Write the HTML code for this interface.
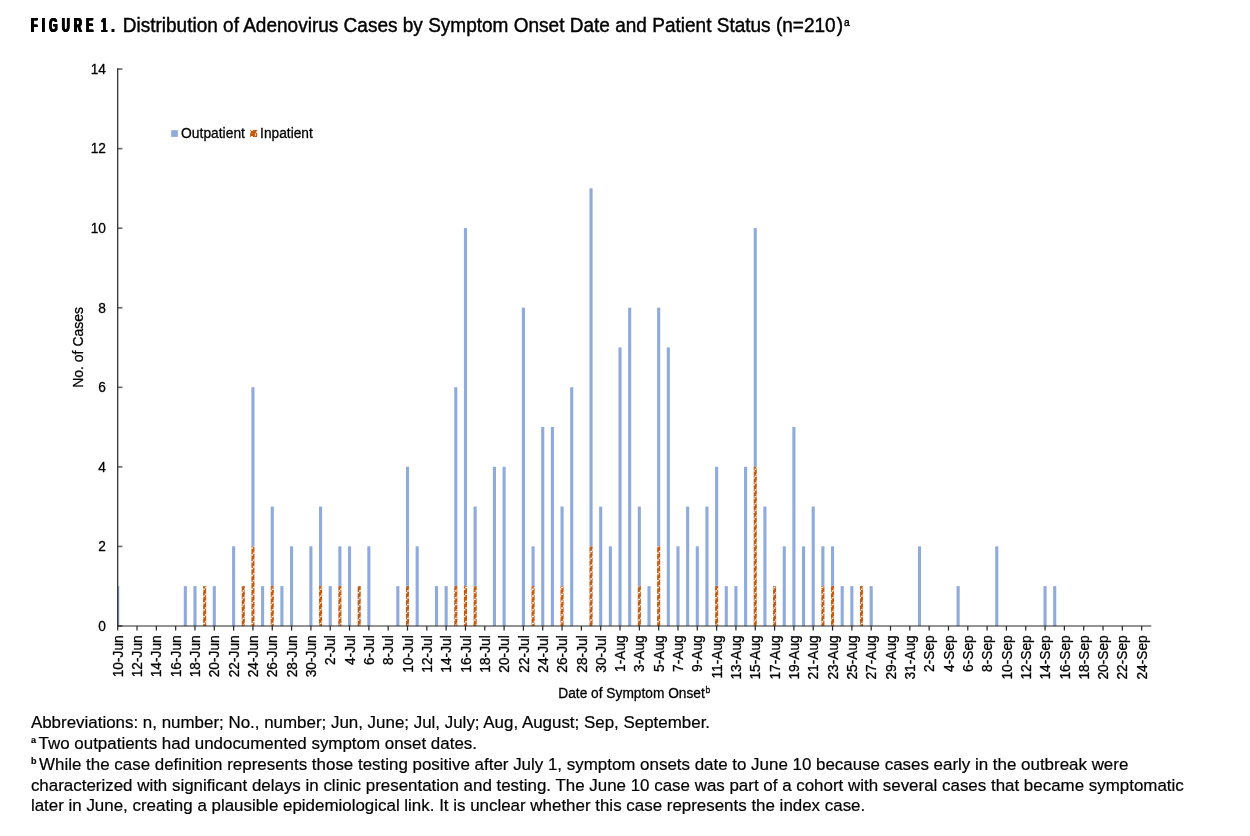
<!DOCTYPE html>
<html lang="en">
<head>
<meta charset="utf-8">
<title>Figure 1. Distribution of Adenovirus Cases by Symptom Onset Date and Patient Status</title>
<style>
html,body{margin:0;padding:0;background:#fff;}
body{width:1250px;height:836px;position:relative;overflow:hidden;font-family:"Liberation Sans",Arial,sans-serif;color:#000;}
.t{position:absolute;white-space:nowrap;line-height:1;}
#fig{left:31.3px;top:16.4px;font-size:19.4px;font-weight:bold;letter-spacing:7.6px;word-spacing:-6.5px;transform-origin:0 0;transform:scaleX(0.56);text-shadow:1.2px 0 0 #000,-1.2px 0 0 #000,0.6px 0 0 #000,-0.6px 0 0 #000;}
#title{left:122.7px;top:15.6px;font-size:19.03px;-webkit-text-stroke:0.4px #000;transform-origin:0 100%;transform:scaleY(1.03);}
#title sup, .fn sup{font-size:9px;font-weight:bold;vertical-align:baseline;position:relative;top:-5.6px;line-height:0;}
#title sup{margin-left:0.8px;font-size:10.2px;font-weight:normal;top:-6.0px;}
#title i{font-style:normal;margin-left:1.2px;}
.fn sup{margin-right:2.7px;}
.fn{left:30.9px;font-size:16.93px;-webkit-text-stroke:0.2px #000;}
</style>
</head>
<body>
<div class="t" id="fig">FIGURE 1.</div>
<div class="t" id="title">Distribution of Adenovirus Cases by Symptom Onset Date and Patient Status (n=210<i>)</i><sup>a</sup></div>
<svg width="1250" height="836" viewBox="0 0 1250 836" style="position:absolute;left:0;top:0" font-family="'Liberation Sans', Arial, sans-serif" font-size="13.5" fill="#000" stroke="#000" stroke-width="0.3" stroke-linejoin="round">
<defs><clipPath id="plot"><rect x="117.7" y="0" width="1200" height="700"/></clipPath></defs>
<g clip-path="url(#plot)" stroke="none">
<rect x="116.15" y="586.12" width="3.1" height="39.78" fill="#8faadc"/>
<rect x="183.77" y="586.12" width="3.1" height="39.78" fill="#8faadc"/>
<rect x="193.43" y="586.12" width="3.1" height="39.78" fill="#8faadc"/>
<rect x="203.09" y="586.12" width="3.1" height="39.78" fill="#c55a11"/>
<g fill="#fff" fill-opacity="0.9"><rect x="202.79" y="590.21" width="0.60" height="1.41"/><rect x="202.79" y="597.06" width="0.60" height="1.41"/><rect x="202.79" y="603.91" width="0.60" height="1.41"/><rect x="202.79" y="610.76" width="0.60" height="1.41"/><rect x="202.79" y="617.61" width="0.60" height="1.41"/><rect x="202.79" y="624.46" width="0.60" height="0.84"/><rect x="203.19" y="588.50" width="1.91" height="1.41"/><rect x="203.19" y="595.35" width="1.91" height="1.41"/><rect x="203.19" y="602.20" width="1.91" height="1.41"/><rect x="203.19" y="609.05" width="1.91" height="1.41"/><rect x="203.19" y="615.90" width="1.91" height="1.41"/><rect x="203.19" y="622.75" width="1.91" height="1.41"/><rect x="204.91" y="586.79" width="1.58" height="1.41"/><rect x="204.91" y="593.64" width="1.58" height="1.41"/><rect x="204.91" y="600.49" width="1.58" height="1.41"/><rect x="204.91" y="607.34" width="1.58" height="1.41"/><rect x="204.91" y="614.19" width="1.58" height="1.41"/><rect x="204.91" y="621.04" width="1.58" height="1.41"/></g>
<rect x="212.75" y="586.12" width="3.1" height="39.78" fill="#8faadc"/>
<rect x="232.07" y="546.34" width="3.1" height="79.56" fill="#8faadc"/>
<rect x="241.73" y="586.12" width="3.1" height="39.78" fill="#c55a11"/>
<g fill="#fff" fill-opacity="0.9"><rect x="241.43" y="586.12" width="1.35" height="0.37"/><rect x="241.43" y="591.92" width="1.35" height="1.41"/><rect x="241.43" y="598.77" width="1.35" height="1.41"/><rect x="241.43" y="605.62" width="1.35" height="1.41"/><rect x="241.43" y="612.47" width="1.35" height="1.41"/><rect x="241.43" y="619.32" width="1.35" height="1.41"/><rect x="242.58" y="590.21" width="1.91" height="1.41"/><rect x="242.58" y="597.06" width="1.91" height="1.41"/><rect x="242.58" y="603.91" width="1.91" height="1.41"/><rect x="242.58" y="610.76" width="1.91" height="1.41"/><rect x="242.58" y="617.61" width="1.91" height="1.41"/><rect x="242.58" y="624.46" width="1.91" height="0.84"/><rect x="244.29" y="588.50" width="0.84" height="1.41"/><rect x="244.29" y="595.35" width="0.84" height="1.41"/><rect x="244.29" y="602.20" width="0.84" height="1.41"/><rect x="244.29" y="609.05" width="0.84" height="1.41"/><rect x="244.29" y="615.90" width="0.84" height="1.41"/><rect x="244.29" y="622.75" width="0.84" height="1.41"/></g>
<rect x="251.39" y="387.22" width="3.1" height="159.12" fill="#8faadc"/>
<rect x="251.39" y="546.34" width="3.1" height="79.56" fill="#c55a11"/>
<g fill="#fff" fill-opacity="0.9"><rect x="251.09" y="549.11" width="0.25" height="1.41"/><rect x="251.09" y="555.96" width="0.25" height="1.41"/><rect x="251.09" y="562.81" width="0.25" height="1.41"/><rect x="251.09" y="569.66" width="0.25" height="1.41"/><rect x="251.09" y="576.51" width="0.25" height="1.41"/><rect x="251.09" y="583.36" width="0.25" height="1.41"/><rect x="251.09" y="590.21" width="0.25" height="1.41"/><rect x="251.09" y="597.06" width="0.25" height="1.41"/><rect x="251.09" y="603.91" width="0.25" height="1.41"/><rect x="251.09" y="610.76" width="0.25" height="1.41"/><rect x="251.09" y="617.61" width="0.25" height="1.41"/><rect x="251.09" y="624.46" width="0.25" height="0.84"/><rect x="251.14" y="547.40" width="1.91" height="1.41"/><rect x="251.14" y="554.25" width="1.91" height="1.41"/><rect x="251.14" y="561.10" width="1.91" height="1.41"/><rect x="251.14" y="567.95" width="1.91" height="1.41"/><rect x="251.14" y="574.80" width="1.91" height="1.41"/><rect x="251.14" y="581.65" width="1.91" height="1.41"/><rect x="251.14" y="588.50" width="1.91" height="1.41"/><rect x="251.14" y="595.35" width="1.91" height="1.41"/><rect x="251.14" y="602.20" width="1.91" height="1.41"/><rect x="251.14" y="609.05" width="1.91" height="1.41"/><rect x="251.14" y="615.90" width="1.91" height="1.41"/><rect x="251.14" y="622.75" width="1.91" height="1.41"/><rect x="252.86" y="546.34" width="1.91" height="0.76"/><rect x="252.86" y="552.54" width="1.91" height="1.41"/><rect x="252.86" y="559.39" width="1.91" height="1.41"/><rect x="252.86" y="566.24" width="1.91" height="1.41"/><rect x="252.86" y="573.09" width="1.91" height="1.41"/><rect x="252.86" y="579.94" width="1.91" height="1.41"/><rect x="252.86" y="586.79" width="1.91" height="1.41"/><rect x="252.86" y="593.64" width="1.91" height="1.41"/><rect x="252.86" y="600.49" width="1.91" height="1.41"/><rect x="252.86" y="607.34" width="1.91" height="1.41"/><rect x="252.86" y="614.19" width="1.91" height="1.41"/><rect x="252.86" y="621.04" width="1.91" height="1.41"/><rect x="254.57" y="550.82" width="0.22" height="1.41"/><rect x="254.57" y="557.67" width="0.22" height="1.41"/><rect x="254.57" y="564.52" width="0.22" height="1.41"/><rect x="254.57" y="571.38" width="0.22" height="1.41"/><rect x="254.57" y="578.22" width="0.22" height="1.41"/><rect x="254.57" y="585.07" width="0.22" height="1.41"/><rect x="254.57" y="591.92" width="0.22" height="1.41"/><rect x="254.57" y="598.77" width="0.22" height="1.41"/><rect x="254.57" y="605.62" width="0.22" height="1.41"/><rect x="254.57" y="612.47" width="0.22" height="1.41"/><rect x="254.57" y="619.32" width="0.22" height="1.41"/></g>
<rect x="261.05" y="586.12" width="3.1" height="39.78" fill="#8faadc"/>
<rect x="270.71" y="506.56" width="3.1" height="79.56" fill="#8faadc"/>
<rect x="270.71" y="586.12" width="3.1" height="39.78" fill="#c55a11"/>
<g fill="#fff" fill-opacity="0.9"><rect x="270.41" y="590.21" width="1.48" height="1.41"/><rect x="270.41" y="597.06" width="1.48" height="1.41"/><rect x="270.41" y="603.91" width="1.48" height="1.41"/><rect x="270.41" y="610.76" width="1.48" height="1.41"/><rect x="270.41" y="617.61" width="1.48" height="1.41"/><rect x="270.41" y="624.46" width="1.48" height="0.84"/><rect x="271.69" y="588.50" width="1.91" height="1.41"/><rect x="271.69" y="595.35" width="1.91" height="1.41"/><rect x="271.69" y="602.20" width="1.91" height="1.41"/><rect x="271.69" y="609.05" width="1.91" height="1.41"/><rect x="271.69" y="615.90" width="1.91" height="1.41"/><rect x="271.69" y="622.75" width="1.91" height="1.41"/><rect x="273.40" y="586.79" width="0.71" height="1.41"/><rect x="273.40" y="593.64" width="0.71" height="1.41"/><rect x="273.40" y="600.49" width="0.71" height="1.41"/><rect x="273.40" y="607.34" width="0.71" height="1.41"/><rect x="273.40" y="614.19" width="0.71" height="1.41"/><rect x="273.40" y="621.04" width="0.71" height="1.41"/></g>
<rect x="280.37" y="586.12" width="3.1" height="39.78" fill="#8faadc"/>
<rect x="290.03" y="546.34" width="3.1" height="79.56" fill="#8faadc"/>
<rect x="309.35" y="546.34" width="3.1" height="79.56" fill="#8faadc"/>
<rect x="319.01" y="506.56" width="3.1" height="79.56" fill="#8faadc"/>
<rect x="319.01" y="586.12" width="3.1" height="39.78" fill="#c55a11"/>
<g fill="#fff" fill-opacity="0.9"><rect x="318.71" y="590.21" width="1.13" height="1.41"/><rect x="318.71" y="597.06" width="1.13" height="1.41"/><rect x="318.71" y="603.91" width="1.13" height="1.41"/><rect x="318.71" y="610.76" width="1.13" height="1.41"/><rect x="318.71" y="617.61" width="1.13" height="1.41"/><rect x="318.71" y="624.46" width="1.13" height="0.84"/><rect x="319.64" y="588.50" width="1.91" height="1.41"/><rect x="319.64" y="595.35" width="1.91" height="1.41"/><rect x="319.64" y="602.20" width="1.91" height="1.41"/><rect x="319.64" y="609.05" width="1.91" height="1.41"/><rect x="319.64" y="615.90" width="1.91" height="1.41"/><rect x="319.64" y="622.75" width="1.91" height="1.41"/><rect x="321.35" y="586.79" width="1.06" height="1.41"/><rect x="321.35" y="593.64" width="1.06" height="1.41"/><rect x="321.35" y="600.49" width="1.06" height="1.41"/><rect x="321.35" y="607.34" width="1.06" height="1.41"/><rect x="321.35" y="614.19" width="1.06" height="1.41"/><rect x="321.35" y="621.04" width="1.06" height="1.41"/></g>
<rect x="328.67" y="586.12" width="3.1" height="39.78" fill="#8faadc"/>
<rect x="338.33" y="546.34" width="3.1" height="39.78" fill="#8faadc"/>
<rect x="338.33" y="586.12" width="3.1" height="39.78" fill="#c55a11"/>
<g fill="#fff" fill-opacity="0.9"><rect x="338.03" y="586.12" width="0.65" height="0.37"/><rect x="338.03" y="591.92" width="0.65" height="1.41"/><rect x="338.03" y="598.77" width="0.65" height="1.41"/><rect x="338.03" y="605.62" width="0.65" height="1.41"/><rect x="338.03" y="612.47" width="0.65" height="1.41"/><rect x="338.03" y="619.32" width="0.65" height="1.41"/><rect x="338.48" y="590.21" width="1.91" height="1.41"/><rect x="338.48" y="597.06" width="1.91" height="1.41"/><rect x="338.48" y="603.91" width="1.91" height="1.41"/><rect x="338.48" y="610.76" width="1.91" height="1.41"/><rect x="338.48" y="617.61" width="1.91" height="1.41"/><rect x="338.48" y="624.46" width="1.91" height="0.84"/><rect x="340.19" y="588.50" width="1.54" height="1.41"/><rect x="340.19" y="595.35" width="1.54" height="1.41"/><rect x="340.19" y="602.20" width="1.54" height="1.41"/><rect x="340.19" y="609.05" width="1.54" height="1.41"/><rect x="340.19" y="615.90" width="1.54" height="1.41"/><rect x="340.19" y="622.75" width="1.54" height="1.41"/></g>
<rect x="347.99" y="546.34" width="3.1" height="79.56" fill="#8faadc"/>
<rect x="357.65" y="586.12" width="3.1" height="39.78" fill="#c55a11"/>
<g fill="#fff" fill-opacity="0.9"><rect x="357.35" y="586.79" width="0.17" height="1.41"/><rect x="357.35" y="593.64" width="0.17" height="1.41"/><rect x="357.35" y="600.49" width="0.17" height="1.41"/><rect x="357.35" y="607.34" width="0.17" height="1.41"/><rect x="357.35" y="614.19" width="0.17" height="1.41"/><rect x="357.35" y="621.04" width="0.17" height="1.41"/><rect x="357.35" y="586.12" width="1.88" height="0.37"/><rect x="357.35" y="591.92" width="1.88" height="1.41"/><rect x="357.35" y="598.77" width="1.88" height="1.41"/><rect x="357.35" y="605.62" width="1.88" height="1.41"/><rect x="357.35" y="612.47" width="1.88" height="1.41"/><rect x="357.35" y="619.32" width="1.88" height="1.41"/><rect x="359.03" y="590.21" width="1.91" height="1.41"/><rect x="359.03" y="597.06" width="1.91" height="1.41"/><rect x="359.03" y="603.91" width="1.91" height="1.41"/><rect x="359.03" y="610.76" width="1.91" height="1.41"/><rect x="359.03" y="617.61" width="1.91" height="1.41"/><rect x="359.03" y="624.46" width="1.91" height="0.84"/><rect x="360.74" y="588.50" width="0.31" height="1.41"/><rect x="360.74" y="595.35" width="0.31" height="1.41"/><rect x="360.74" y="602.20" width="0.31" height="1.41"/><rect x="360.74" y="609.05" width="0.31" height="1.41"/><rect x="360.74" y="615.90" width="0.31" height="1.41"/><rect x="360.74" y="622.75" width="0.31" height="1.41"/></g>
<rect x="367.31" y="546.34" width="3.1" height="79.56" fill="#8faadc"/>
<rect x="396.29" y="586.12" width="3.1" height="39.78" fill="#8faadc"/>
<rect x="405.95" y="466.78" width="3.1" height="119.34" fill="#8faadc"/>
<rect x="405.95" y="586.12" width="3.1" height="39.78" fill="#c55a11"/>
<g fill="#fff" fill-opacity="0.9"><rect x="405.65" y="586.12" width="1.53" height="0.37"/><rect x="405.65" y="591.92" width="1.53" height="1.41"/><rect x="405.65" y="598.77" width="1.53" height="1.41"/><rect x="405.65" y="605.62" width="1.53" height="1.41"/><rect x="405.65" y="612.47" width="1.53" height="1.41"/><rect x="405.65" y="619.32" width="1.53" height="1.41"/><rect x="406.98" y="590.21" width="1.91" height="1.41"/><rect x="406.98" y="597.06" width="1.91" height="1.41"/><rect x="406.98" y="603.91" width="1.91" height="1.41"/><rect x="406.98" y="610.76" width="1.91" height="1.41"/><rect x="406.98" y="617.61" width="1.91" height="1.41"/><rect x="406.98" y="624.46" width="1.91" height="0.84"/><rect x="408.69" y="588.50" width="0.66" height="1.41"/><rect x="408.69" y="595.35" width="0.66" height="1.41"/><rect x="408.69" y="602.20" width="0.66" height="1.41"/><rect x="408.69" y="609.05" width="0.66" height="1.41"/><rect x="408.69" y="615.90" width="0.66" height="1.41"/><rect x="408.69" y="622.75" width="0.66" height="1.41"/></g>
<rect x="415.61" y="546.34" width="3.1" height="79.56" fill="#8faadc"/>
<rect x="434.93" y="586.12" width="3.1" height="39.78" fill="#8faadc"/>
<rect x="444.59" y="586.12" width="3.1" height="39.78" fill="#8faadc"/>
<rect x="454.25" y="387.22" width="3.1" height="198.90" fill="#8faadc"/>
<rect x="454.25" y="586.12" width="3.1" height="39.78" fill="#c55a11"/>
<g fill="#fff" fill-opacity="0.9"><rect x="453.95" y="586.12" width="1.18" height="0.37"/><rect x="453.95" y="591.92" width="1.18" height="1.41"/><rect x="453.95" y="598.77" width="1.18" height="1.41"/><rect x="453.95" y="605.62" width="1.18" height="1.41"/><rect x="453.95" y="612.47" width="1.18" height="1.41"/><rect x="453.95" y="619.32" width="1.18" height="1.41"/><rect x="454.93" y="590.21" width="1.91" height="1.41"/><rect x="454.93" y="597.06" width="1.91" height="1.41"/><rect x="454.93" y="603.91" width="1.91" height="1.41"/><rect x="454.93" y="610.76" width="1.91" height="1.41"/><rect x="454.93" y="617.61" width="1.91" height="1.41"/><rect x="454.93" y="624.46" width="1.91" height="0.84"/><rect x="456.64" y="588.50" width="1.01" height="1.41"/><rect x="456.64" y="595.35" width="1.01" height="1.41"/><rect x="456.64" y="602.20" width="1.01" height="1.41"/><rect x="456.64" y="609.05" width="1.01" height="1.41"/><rect x="456.64" y="615.90" width="1.01" height="1.41"/><rect x="456.64" y="622.75" width="1.01" height="1.41"/></g>
<rect x="463.91" y="228.10" width="3.1" height="358.02" fill="#8faadc"/>
<rect x="463.91" y="586.12" width="3.1" height="39.78" fill="#c55a11"/>
<g fill="#fff" fill-opacity="0.9"><rect x="463.61" y="588.50" width="1.80" height="1.41"/><rect x="463.61" y="595.35" width="1.80" height="1.41"/><rect x="463.61" y="602.20" width="1.80" height="1.41"/><rect x="463.61" y="609.05" width="1.80" height="1.41"/><rect x="463.61" y="615.90" width="1.80" height="1.41"/><rect x="463.61" y="622.75" width="1.80" height="1.41"/><rect x="465.20" y="586.79" width="1.91" height="1.41"/><rect x="465.20" y="593.64" width="1.91" height="1.41"/><rect x="465.20" y="600.49" width="1.91" height="1.41"/><rect x="465.20" y="607.34" width="1.91" height="1.41"/><rect x="465.20" y="614.19" width="1.91" height="1.41"/><rect x="465.20" y="621.04" width="1.91" height="1.41"/><rect x="466.92" y="586.12" width="0.39" height="0.37"/><rect x="466.92" y="591.92" width="0.39" height="1.41"/><rect x="466.92" y="598.77" width="0.39" height="1.41"/><rect x="466.92" y="605.62" width="0.39" height="1.41"/><rect x="466.92" y="612.47" width="0.39" height="1.41"/><rect x="466.92" y="619.32" width="0.39" height="1.41"/></g>
<rect x="473.57" y="506.56" width="3.1" height="79.56" fill="#8faadc"/>
<rect x="473.57" y="586.12" width="3.1" height="39.78" fill="#c55a11"/>
<g fill="#fff" fill-opacity="0.9"><rect x="473.27" y="586.79" width="0.70" height="1.41"/><rect x="473.27" y="593.64" width="0.70" height="1.41"/><rect x="473.27" y="600.49" width="0.70" height="1.41"/><rect x="473.27" y="607.34" width="0.70" height="1.41"/><rect x="473.27" y="614.19" width="0.70" height="1.41"/><rect x="473.27" y="621.04" width="0.70" height="1.41"/><rect x="473.77" y="586.12" width="1.91" height="0.37"/><rect x="473.77" y="591.92" width="1.91" height="1.41"/><rect x="473.77" y="598.77" width="1.91" height="1.41"/><rect x="473.77" y="605.62" width="1.91" height="1.41"/><rect x="473.77" y="612.47" width="1.91" height="1.41"/><rect x="473.77" y="619.32" width="1.91" height="1.41"/><rect x="475.48" y="590.21" width="1.49" height="1.41"/><rect x="475.48" y="597.06" width="1.49" height="1.41"/><rect x="475.48" y="603.91" width="1.49" height="1.41"/><rect x="475.48" y="610.76" width="1.49" height="1.41"/><rect x="475.48" y="617.61" width="1.49" height="1.41"/><rect x="475.48" y="624.46" width="1.49" height="0.84"/></g>
<rect x="492.89" y="466.78" width="3.1" height="159.12" fill="#8faadc"/>
<rect x="502.55" y="466.78" width="3.1" height="159.12" fill="#8faadc"/>
<rect x="521.87" y="307.66" width="3.1" height="318.24" fill="#8faadc"/>
<rect x="531.53" y="546.34" width="3.1" height="39.78" fill="#8faadc"/>
<rect x="531.53" y="586.12" width="3.1" height="39.78" fill="#c55a11"/>
<g fill="#fff" fill-opacity="0.9"><rect x="531.23" y="590.21" width="0.96" height="1.41"/><rect x="531.23" y="597.06" width="0.96" height="1.41"/><rect x="531.23" y="603.91" width="0.96" height="1.41"/><rect x="531.23" y="610.76" width="0.96" height="1.41"/><rect x="531.23" y="617.61" width="0.96" height="1.41"/><rect x="531.23" y="624.46" width="0.96" height="0.84"/><rect x="531.99" y="588.50" width="1.91" height="1.41"/><rect x="531.99" y="595.35" width="1.91" height="1.41"/><rect x="531.99" y="602.20" width="1.91" height="1.41"/><rect x="531.99" y="609.05" width="1.91" height="1.41"/><rect x="531.99" y="615.90" width="1.91" height="1.41"/><rect x="531.99" y="622.75" width="1.91" height="1.41"/><rect x="533.70" y="586.79" width="1.23" height="1.41"/><rect x="533.70" y="593.64" width="1.23" height="1.41"/><rect x="533.70" y="600.49" width="1.23" height="1.41"/><rect x="533.70" y="607.34" width="1.23" height="1.41"/><rect x="533.70" y="614.19" width="1.23" height="1.41"/><rect x="533.70" y="621.04" width="1.23" height="1.41"/></g>
<rect x="541.19" y="427.00" width="3.1" height="198.90" fill="#8faadc"/>
<rect x="550.85" y="427.00" width="3.1" height="198.90" fill="#8faadc"/>
<rect x="560.51" y="506.56" width="3.1" height="79.56" fill="#8faadc"/>
<rect x="560.51" y="586.12" width="3.1" height="39.78" fill="#c55a11"/>
<g fill="#fff" fill-opacity="0.9"><rect x="560.21" y="588.50" width="1.09" height="1.41"/><rect x="560.21" y="595.35" width="1.09" height="1.41"/><rect x="560.21" y="602.20" width="1.09" height="1.41"/><rect x="560.21" y="609.05" width="1.09" height="1.41"/><rect x="560.21" y="615.90" width="1.09" height="1.41"/><rect x="560.21" y="622.75" width="1.09" height="1.41"/><rect x="561.11" y="586.79" width="1.91" height="1.41"/><rect x="561.11" y="593.64" width="1.91" height="1.41"/><rect x="561.11" y="600.49" width="1.91" height="1.41"/><rect x="561.11" y="607.34" width="1.91" height="1.41"/><rect x="561.11" y="614.19" width="1.91" height="1.41"/><rect x="561.11" y="621.04" width="1.91" height="1.41"/><rect x="562.82" y="586.12" width="1.09" height="0.37"/><rect x="562.82" y="591.92" width="1.09" height="1.41"/><rect x="562.82" y="598.77" width="1.09" height="1.41"/><rect x="562.82" y="605.62" width="1.09" height="1.41"/><rect x="562.82" y="612.47" width="1.09" height="1.41"/><rect x="562.82" y="619.32" width="1.09" height="1.41"/></g>
<rect x="570.17" y="387.22" width="3.1" height="238.68" fill="#8faadc"/>
<rect x="589.49" y="188.32" width="3.1" height="358.02" fill="#8faadc"/>
<rect x="589.49" y="546.34" width="3.1" height="79.56" fill="#c55a11"/>
<g fill="#fff" fill-opacity="0.9"><rect x="589.19" y="546.34" width="1.23" height="0.76"/><rect x="589.19" y="552.54" width="1.23" height="1.41"/><rect x="589.19" y="559.39" width="1.23" height="1.41"/><rect x="589.19" y="566.24" width="1.23" height="1.41"/><rect x="589.19" y="573.09" width="1.23" height="1.41"/><rect x="589.19" y="579.94" width="1.23" height="1.41"/><rect x="589.19" y="586.79" width="1.23" height="1.41"/><rect x="589.19" y="593.64" width="1.23" height="1.41"/><rect x="589.19" y="600.49" width="1.23" height="1.41"/><rect x="589.19" y="607.34" width="1.23" height="1.41"/><rect x="589.19" y="614.19" width="1.23" height="1.41"/><rect x="589.19" y="621.04" width="1.23" height="1.41"/><rect x="590.22" y="550.82" width="1.91" height="1.41"/><rect x="590.22" y="557.67" width="1.91" height="1.41"/><rect x="590.22" y="564.52" width="1.91" height="1.41"/><rect x="590.22" y="571.38" width="1.91" height="1.41"/><rect x="590.22" y="578.22" width="1.91" height="1.41"/><rect x="590.22" y="585.07" width="1.91" height="1.41"/><rect x="590.22" y="591.92" width="1.91" height="1.41"/><rect x="590.22" y="598.77" width="1.91" height="1.41"/><rect x="590.22" y="605.62" width="1.91" height="1.41"/><rect x="590.22" y="612.47" width="1.91" height="1.41"/><rect x="590.22" y="619.32" width="1.91" height="1.41"/><rect x="591.93" y="549.11" width="0.96" height="1.41"/><rect x="591.93" y="555.96" width="0.96" height="1.41"/><rect x="591.93" y="562.81" width="0.96" height="1.41"/><rect x="591.93" y="569.66" width="0.96" height="1.41"/><rect x="591.93" y="576.51" width="0.96" height="1.41"/><rect x="591.93" y="583.36" width="0.96" height="1.41"/><rect x="591.93" y="590.21" width="0.96" height="1.41"/><rect x="591.93" y="597.06" width="0.96" height="1.41"/><rect x="591.93" y="603.91" width="0.96" height="1.41"/><rect x="591.93" y="610.76" width="0.96" height="1.41"/><rect x="591.93" y="617.61" width="0.96" height="1.41"/><rect x="591.93" y="624.46" width="0.96" height="0.84"/></g>
<rect x="599.15" y="506.56" width="3.1" height="119.34" fill="#8faadc"/>
<rect x="608.81" y="546.34" width="3.1" height="79.56" fill="#8faadc"/>
<rect x="618.47" y="347.44" width="3.1" height="278.46" fill="#8faadc"/>
<rect x="628.13" y="307.66" width="3.1" height="318.24" fill="#8faadc"/>
<rect x="637.79" y="506.56" width="3.1" height="79.56" fill="#8faadc"/>
<rect x="637.79" y="586.12" width="3.1" height="39.78" fill="#c55a11"/>
<g fill="#fff" fill-opacity="0.9"><rect x="637.49" y="586.79" width="0.88" height="1.41"/><rect x="637.49" y="593.64" width="0.88" height="1.41"/><rect x="637.49" y="600.49" width="0.88" height="1.41"/><rect x="637.49" y="607.34" width="0.88" height="1.41"/><rect x="637.49" y="614.19" width="0.88" height="1.41"/><rect x="637.49" y="621.04" width="0.88" height="1.41"/><rect x="638.17" y="586.12" width="1.91" height="0.37"/><rect x="638.17" y="591.92" width="1.91" height="1.41"/><rect x="638.17" y="598.77" width="1.91" height="1.41"/><rect x="638.17" y="605.62" width="1.91" height="1.41"/><rect x="638.17" y="612.47" width="1.91" height="1.41"/><rect x="638.17" y="619.32" width="1.91" height="1.41"/><rect x="639.88" y="590.21" width="1.31" height="1.41"/><rect x="639.88" y="597.06" width="1.31" height="1.41"/><rect x="639.88" y="603.91" width="1.31" height="1.41"/><rect x="639.88" y="610.76" width="1.31" height="1.41"/><rect x="639.88" y="617.61" width="1.31" height="1.41"/><rect x="639.88" y="624.46" width="1.31" height="0.84"/></g>
<rect x="647.45" y="586.12" width="3.1" height="39.78" fill="#8faadc"/>
<rect x="657.11" y="307.66" width="3.1" height="238.68" fill="#8faadc"/>
<rect x="657.11" y="546.34" width="3.1" height="79.56" fill="#c55a11"/>
<g fill="#fff" fill-opacity="0.9"><rect x="656.81" y="547.40" width="0.39" height="1.41"/><rect x="656.81" y="554.25" width="0.39" height="1.41"/><rect x="656.81" y="561.10" width="0.39" height="1.41"/><rect x="656.81" y="567.95" width="0.39" height="1.41"/><rect x="656.81" y="574.80" width="0.39" height="1.41"/><rect x="656.81" y="581.65" width="0.39" height="1.41"/><rect x="656.81" y="588.50" width="0.39" height="1.41"/><rect x="656.81" y="595.35" width="0.39" height="1.41"/><rect x="656.81" y="602.20" width="0.39" height="1.41"/><rect x="656.81" y="609.05" width="0.39" height="1.41"/><rect x="656.81" y="615.90" width="0.39" height="1.41"/><rect x="656.81" y="622.75" width="0.39" height="1.41"/><rect x="657.00" y="546.34" width="1.91" height="0.76"/><rect x="657.00" y="552.54" width="1.91" height="1.41"/><rect x="657.00" y="559.39" width="1.91" height="1.41"/><rect x="657.00" y="566.24" width="1.91" height="1.41"/><rect x="657.00" y="573.09" width="1.91" height="1.41"/><rect x="657.00" y="579.94" width="1.91" height="1.41"/><rect x="657.00" y="586.79" width="1.91" height="1.41"/><rect x="657.00" y="593.64" width="1.91" height="1.41"/><rect x="657.00" y="600.49" width="1.91" height="1.41"/><rect x="657.00" y="607.34" width="1.91" height="1.41"/><rect x="657.00" y="614.19" width="1.91" height="1.41"/><rect x="657.00" y="621.04" width="1.91" height="1.41"/><rect x="658.72" y="550.82" width="1.79" height="1.41"/><rect x="658.72" y="557.67" width="1.79" height="1.41"/><rect x="658.72" y="564.52" width="1.79" height="1.41"/><rect x="658.72" y="571.38" width="1.79" height="1.41"/><rect x="658.72" y="578.22" width="1.79" height="1.41"/><rect x="658.72" y="585.07" width="1.79" height="1.41"/><rect x="658.72" y="591.92" width="1.79" height="1.41"/><rect x="658.72" y="598.77" width="1.79" height="1.41"/><rect x="658.72" y="605.62" width="1.79" height="1.41"/><rect x="658.72" y="612.47" width="1.79" height="1.41"/><rect x="658.72" y="619.32" width="1.79" height="1.41"/></g>
<rect x="666.77" y="347.44" width="3.1" height="278.46" fill="#8faadc"/>
<rect x="676.43" y="546.34" width="3.1" height="79.56" fill="#8faadc"/>
<rect x="686.09" y="506.56" width="3.1" height="119.34" fill="#8faadc"/>
<rect x="695.75" y="546.34" width="3.1" height="79.56" fill="#8faadc"/>
<rect x="705.41" y="506.56" width="3.1" height="119.34" fill="#8faadc"/>
<rect x="715.07" y="466.78" width="3.1" height="119.34" fill="#8faadc"/>
<rect x="715.07" y="586.12" width="3.1" height="39.78" fill="#c55a11"/>
<g fill="#fff" fill-opacity="0.9"><rect x="714.77" y="586.12" width="0.66" height="0.37"/><rect x="714.77" y="591.92" width="0.66" height="1.41"/><rect x="714.77" y="598.77" width="0.66" height="1.41"/><rect x="714.77" y="605.62" width="0.66" height="1.41"/><rect x="714.77" y="612.47" width="0.66" height="1.41"/><rect x="714.77" y="619.32" width="0.66" height="1.41"/><rect x="715.23" y="590.21" width="1.91" height="1.41"/><rect x="715.23" y="597.06" width="1.91" height="1.41"/><rect x="715.23" y="603.91" width="1.91" height="1.41"/><rect x="715.23" y="610.76" width="1.91" height="1.41"/><rect x="715.23" y="617.61" width="1.91" height="1.41"/><rect x="715.23" y="624.46" width="1.91" height="0.84"/><rect x="716.94" y="588.50" width="1.53" height="1.41"/><rect x="716.94" y="595.35" width="1.53" height="1.41"/><rect x="716.94" y="602.20" width="1.53" height="1.41"/><rect x="716.94" y="609.05" width="1.53" height="1.41"/><rect x="716.94" y="615.90" width="1.53" height="1.41"/><rect x="716.94" y="622.75" width="1.53" height="1.41"/></g>
<rect x="724.73" y="586.12" width="3.1" height="39.78" fill="#8faadc"/>
<rect x="734.39" y="586.12" width="3.1" height="39.78" fill="#8faadc"/>
<rect x="744.05" y="466.78" width="3.1" height="159.12" fill="#8faadc"/>
<rect x="753.71" y="228.10" width="3.1" height="238.68" fill="#8faadc"/>
<rect x="753.71" y="466.78" width="3.1" height="159.12" fill="#c55a11"/>
<g fill="#fff" fill-opacity="0.9"><rect x="753.41" y="470.34" width="1.41" height="1.41"/><rect x="753.41" y="477.19" width="1.41" height="1.41"/><rect x="753.41" y="484.04" width="1.41" height="1.41"/><rect x="753.41" y="490.89" width="1.41" height="1.41"/><rect x="753.41" y="497.74" width="1.41" height="1.41"/><rect x="753.41" y="504.59" width="1.41" height="1.41"/><rect x="753.41" y="511.44" width="1.41" height="1.41"/><rect x="753.41" y="518.29" width="1.41" height="1.41"/><rect x="753.41" y="525.14" width="1.41" height="1.41"/><rect x="753.41" y="531.99" width="1.41" height="1.41"/><rect x="753.41" y="538.84" width="1.41" height="1.41"/><rect x="753.41" y="545.69" width="1.41" height="1.41"/><rect x="753.41" y="552.54" width="1.41" height="1.41"/><rect x="753.41" y="559.39" width="1.41" height="1.41"/><rect x="753.41" y="566.24" width="1.41" height="1.41"/><rect x="753.41" y="573.09" width="1.41" height="1.41"/><rect x="753.41" y="579.94" width="1.41" height="1.41"/><rect x="753.41" y="586.79" width="1.41" height="1.41"/><rect x="753.41" y="593.64" width="1.41" height="1.41"/><rect x="753.41" y="600.49" width="1.41" height="1.41"/><rect x="753.41" y="607.34" width="1.41" height="1.41"/><rect x="753.41" y="614.19" width="1.41" height="1.41"/><rect x="753.41" y="621.04" width="1.41" height="1.41"/><rect x="754.62" y="468.62" width="1.91" height="1.41"/><rect x="754.62" y="475.47" width="1.91" height="1.41"/><rect x="754.62" y="482.32" width="1.91" height="1.41"/><rect x="754.62" y="489.17" width="1.91" height="1.41"/><rect x="754.62" y="496.02" width="1.91" height="1.41"/><rect x="754.62" y="502.88" width="1.91" height="1.41"/><rect x="754.62" y="509.72" width="1.91" height="1.41"/><rect x="754.62" y="516.57" width="1.91" height="1.41"/><rect x="754.62" y="523.42" width="1.91" height="1.41"/><rect x="754.62" y="530.27" width="1.91" height="1.41"/><rect x="754.62" y="537.12" width="1.91" height="1.41"/><rect x="754.62" y="543.97" width="1.91" height="1.41"/><rect x="754.62" y="550.82" width="1.91" height="1.41"/><rect x="754.62" y="557.67" width="1.91" height="1.41"/><rect x="754.62" y="564.52" width="1.91" height="1.41"/><rect x="754.62" y="571.38" width="1.91" height="1.41"/><rect x="754.62" y="578.22" width="1.91" height="1.41"/><rect x="754.62" y="585.07" width="1.91" height="1.41"/><rect x="754.62" y="591.92" width="1.91" height="1.41"/><rect x="754.62" y="598.77" width="1.91" height="1.41"/><rect x="754.62" y="605.62" width="1.91" height="1.41"/><rect x="754.62" y="612.47" width="1.91" height="1.41"/><rect x="754.62" y="619.32" width="1.91" height="1.41"/><rect x="756.33" y="466.91" width="0.78" height="1.41"/><rect x="756.33" y="473.76" width="0.78" height="1.41"/><rect x="756.33" y="480.61" width="0.78" height="1.41"/><rect x="756.33" y="487.46" width="0.78" height="1.41"/><rect x="756.33" y="494.31" width="0.78" height="1.41"/><rect x="756.33" y="501.16" width="0.78" height="1.41"/><rect x="756.33" y="508.01" width="0.78" height="1.41"/><rect x="756.33" y="514.86" width="0.78" height="1.41"/><rect x="756.33" y="521.71" width="0.78" height="1.41"/><rect x="756.33" y="528.56" width="0.78" height="1.41"/><rect x="756.33" y="535.41" width="0.78" height="1.41"/><rect x="756.33" y="542.26" width="0.78" height="1.41"/><rect x="756.33" y="549.11" width="0.78" height="1.41"/><rect x="756.33" y="555.96" width="0.78" height="1.41"/><rect x="756.33" y="562.81" width="0.78" height="1.41"/><rect x="756.33" y="569.66" width="0.78" height="1.41"/><rect x="756.33" y="576.51" width="0.78" height="1.41"/><rect x="756.33" y="583.36" width="0.78" height="1.41"/><rect x="756.33" y="590.21" width="0.78" height="1.41"/><rect x="756.33" y="597.06" width="0.78" height="1.41"/><rect x="756.33" y="603.91" width="0.78" height="1.41"/><rect x="756.33" y="610.76" width="0.78" height="1.41"/><rect x="756.33" y="617.61" width="0.78" height="1.41"/><rect x="756.33" y="624.46" width="0.78" height="0.84"/></g>
<rect x="763.37" y="506.56" width="3.1" height="119.34" fill="#8faadc"/>
<rect x="773.03" y="586.12" width="3.1" height="39.78" fill="#c55a11"/>
<g fill="#fff" fill-opacity="0.9"><rect x="772.73" y="588.50" width="0.92" height="1.41"/><rect x="772.73" y="595.35" width="0.92" height="1.41"/><rect x="772.73" y="602.20" width="0.92" height="1.41"/><rect x="772.73" y="609.05" width="0.92" height="1.41"/><rect x="772.73" y="615.90" width="0.92" height="1.41"/><rect x="772.73" y="622.75" width="0.92" height="1.41"/><rect x="773.45" y="586.79" width="1.91" height="1.41"/><rect x="773.45" y="593.64" width="1.91" height="1.41"/><rect x="773.45" y="600.49" width="1.91" height="1.41"/><rect x="773.45" y="607.34" width="1.91" height="1.41"/><rect x="773.45" y="614.19" width="1.91" height="1.41"/><rect x="773.45" y="621.04" width="1.91" height="1.41"/><rect x="775.17" y="586.12" width="1.26" height="0.37"/><rect x="775.17" y="591.92" width="1.26" height="1.41"/><rect x="775.17" y="598.77" width="1.26" height="1.41"/><rect x="775.17" y="605.62" width="1.26" height="1.41"/><rect x="775.17" y="612.47" width="1.26" height="1.41"/><rect x="775.17" y="619.32" width="1.26" height="1.41"/></g>
<rect x="782.69" y="546.34" width="3.1" height="79.56" fill="#8faadc"/>
<rect x="792.35" y="427.00" width="3.1" height="198.90" fill="#8faadc"/>
<rect x="802.01" y="546.34" width="3.1" height="79.56" fill="#8faadc"/>
<rect x="811.67" y="506.56" width="3.1" height="119.34" fill="#8faadc"/>
<rect x="821.33" y="546.34" width="3.1" height="39.78" fill="#8faadc"/>
<rect x="821.33" y="586.12" width="3.1" height="39.78" fill="#c55a11"/>
<g fill="#fff" fill-opacity="0.9"><rect x="821.03" y="588.50" width="0.57" height="1.41"/><rect x="821.03" y="595.35" width="0.57" height="1.41"/><rect x="821.03" y="602.20" width="0.57" height="1.41"/><rect x="821.03" y="609.05" width="0.57" height="1.41"/><rect x="821.03" y="615.90" width="0.57" height="1.41"/><rect x="821.03" y="622.75" width="0.57" height="1.41"/><rect x="821.40" y="586.79" width="1.91" height="1.41"/><rect x="821.40" y="593.64" width="1.91" height="1.41"/><rect x="821.40" y="600.49" width="1.91" height="1.41"/><rect x="821.40" y="607.34" width="1.91" height="1.41"/><rect x="821.40" y="614.19" width="1.91" height="1.41"/><rect x="821.40" y="621.04" width="1.91" height="1.41"/><rect x="823.12" y="586.12" width="1.61" height="0.37"/><rect x="823.12" y="591.92" width="1.61" height="1.41"/><rect x="823.12" y="598.77" width="1.61" height="1.41"/><rect x="823.12" y="605.62" width="1.61" height="1.41"/><rect x="823.12" y="612.47" width="1.61" height="1.41"/><rect x="823.12" y="619.32" width="1.61" height="1.41"/></g>
<rect x="830.99" y="546.34" width="3.1" height="39.78" fill="#8faadc"/>
<rect x="830.99" y="586.12" width="3.1" height="39.78" fill="#c55a11"/>
<g fill="#fff" fill-opacity="0.9"><rect x="830.69" y="586.12" width="1.19" height="0.37"/><rect x="830.69" y="591.92" width="1.19" height="1.41"/><rect x="830.69" y="598.77" width="1.19" height="1.41"/><rect x="830.69" y="605.62" width="1.19" height="1.41"/><rect x="830.69" y="612.47" width="1.19" height="1.41"/><rect x="830.69" y="619.32" width="1.19" height="1.41"/><rect x="831.68" y="590.21" width="1.91" height="1.41"/><rect x="831.68" y="597.06" width="1.91" height="1.41"/><rect x="831.68" y="603.91" width="1.91" height="1.41"/><rect x="831.68" y="610.76" width="1.91" height="1.41"/><rect x="831.68" y="617.61" width="1.91" height="1.41"/><rect x="831.68" y="624.46" width="1.91" height="0.84"/><rect x="833.39" y="588.50" width="1.00" height="1.41"/><rect x="833.39" y="595.35" width="1.00" height="1.41"/><rect x="833.39" y="602.20" width="1.00" height="1.41"/><rect x="833.39" y="609.05" width="1.00" height="1.41"/><rect x="833.39" y="615.90" width="1.00" height="1.41"/><rect x="833.39" y="622.75" width="1.00" height="1.41"/></g>
<rect x="840.65" y="586.12" width="3.1" height="39.78" fill="#8faadc"/>
<rect x="850.31" y="586.12" width="3.1" height="39.78" fill="#8faadc"/>
<rect x="859.97" y="586.12" width="3.1" height="39.78" fill="#c55a11"/>
<g fill="#fff" fill-opacity="0.9"><rect x="859.67" y="590.21" width="1.32" height="1.41"/><rect x="859.67" y="597.06" width="1.32" height="1.41"/><rect x="859.67" y="603.91" width="1.32" height="1.41"/><rect x="859.67" y="610.76" width="1.32" height="1.41"/><rect x="859.67" y="617.61" width="1.32" height="1.41"/><rect x="859.67" y="624.46" width="1.32" height="0.84"/><rect x="860.79" y="588.50" width="1.91" height="1.41"/><rect x="860.79" y="595.35" width="1.91" height="1.41"/><rect x="860.79" y="602.20" width="1.91" height="1.41"/><rect x="860.79" y="609.05" width="1.91" height="1.41"/><rect x="860.79" y="615.90" width="1.91" height="1.41"/><rect x="860.79" y="622.75" width="1.91" height="1.41"/><rect x="862.50" y="586.79" width="0.87" height="1.41"/><rect x="862.50" y="593.64" width="0.87" height="1.41"/><rect x="862.50" y="600.49" width="0.87" height="1.41"/><rect x="862.50" y="607.34" width="0.87" height="1.41"/><rect x="862.50" y="614.19" width="0.87" height="1.41"/><rect x="862.50" y="621.04" width="0.87" height="1.41"/></g>
<rect x="869.63" y="586.12" width="3.1" height="39.78" fill="#8faadc"/>
<rect x="917.93" y="546.34" width="3.1" height="79.56" fill="#8faadc"/>
<rect x="956.57" y="586.12" width="3.1" height="39.78" fill="#8faadc"/>
<rect x="995.21" y="546.34" width="3.1" height="79.56" fill="#8faadc"/>
<rect x="1043.51" y="586.12" width="3.1" height="39.78" fill="#8faadc"/>
<rect x="1053.17" y="586.12" width="3.1" height="39.78" fill="#8faadc"/>
</g>
<g stroke="#000" stroke-opacity="0.57" stroke-width="1.7" fill="none">
<path d="M117.10 626.00H1151.32"/>
<path d="M117.7 626.00h4.7"/>
<path d="M117.7 546.44h4.7"/>
<path d="M117.7 466.88h4.7"/>
<path d="M117.7 387.32h4.7"/>
<path d="M117.7 307.76h4.7"/>
<path d="M117.7 228.20h4.7"/>
<path d="M117.7 148.64h4.7"/>
<path d="M117.7 69.08h4.7"/>
</g>
<g stroke="#2b2b2b" stroke-width="1.25" fill="none">
<path d="M117.7 68.23V630.60"/>
<path d="M137.02 625.9v4.7"/>
<path d="M156.34 625.9v4.7"/>
<path d="M175.66 625.9v4.7"/>
<path d="M194.98 625.9v4.7"/>
<path d="M214.30 625.9v4.7"/>
<path d="M233.62 625.9v4.7"/>
<path d="M252.94 625.9v4.7"/>
<path d="M272.26 625.9v4.7"/>
<path d="M291.58 625.9v4.7"/>
<path d="M310.90 625.9v4.7"/>
<path d="M330.22 625.9v4.7"/>
<path d="M349.54 625.9v4.7"/>
<path d="M368.86 625.9v4.7"/>
<path d="M388.18 625.9v4.7"/>
<path d="M407.50 625.9v4.7"/>
<path d="M426.82 625.9v4.7"/>
<path d="M446.14 625.9v4.7"/>
<path d="M465.46 625.9v4.7"/>
<path d="M484.78 625.9v4.7"/>
<path d="M504.10 625.9v4.7"/>
<path d="M523.42 625.9v4.7"/>
<path d="M542.74 625.9v4.7"/>
<path d="M562.06 625.9v4.7"/>
<path d="M581.38 625.9v4.7"/>
<path d="M600.70 625.9v4.7"/>
<path d="M620.02 625.9v4.7"/>
<path d="M639.34 625.9v4.7"/>
<path d="M658.66 625.9v4.7"/>
<path d="M677.98 625.9v4.7"/>
<path d="M697.30 625.9v4.7"/>
<path d="M716.62 625.9v4.7"/>
<path d="M735.94 625.9v4.7"/>
<path d="M755.26 625.9v4.7"/>
<path d="M774.58 625.9v4.7"/>
<path d="M793.90 625.9v4.7"/>
<path d="M813.22 625.9v4.7"/>
<path d="M832.54 625.9v4.7"/>
<path d="M851.86 625.9v4.7"/>
<path d="M871.18 625.9v4.7"/>
<path d="M890.50 625.9v4.7"/>
<path d="M909.82 625.9v4.7"/>
<path d="M929.14 625.9v4.7"/>
<path d="M948.46 625.9v4.7"/>
<path d="M967.78 625.9v4.7"/>
<path d="M987.10 625.9v4.7"/>
<path d="M1006.42 625.9v4.7"/>
<path d="M1025.74 625.9v4.7"/>
<path d="M1045.06 625.9v4.7"/>
<path d="M1064.38 625.9v4.7"/>
<path d="M1083.70 625.9v4.7"/>
<path d="M1103.02 625.9v4.7"/>
<path d="M1122.34 625.9v4.7"/>
<path d="M1141.66 625.9v4.7"/>
</g>
<text transform="translate(106.00 630.80) scale(0.9009 1)" text-anchor="end" font-size="15.24">0</text>
<text transform="translate(106.00 551.24) scale(0.9009 1)" text-anchor="end" font-size="15.24">2</text>
<text transform="translate(106.00 471.68) scale(0.9009 1)" text-anchor="end" font-size="15.24">4</text>
<text transform="translate(106.00 392.12) scale(0.9009 1)" text-anchor="end" font-size="15.24">6</text>
<text transform="translate(106.00 312.56) scale(0.9009 1)" text-anchor="end" font-size="15.24">8</text>
<text transform="translate(106.00 233.00) scale(0.9009 1)" text-anchor="end" font-size="15.24">10</text>
<text transform="translate(106.00 153.44) scale(0.9009 1)" text-anchor="end" font-size="15.24">12</text>
<text transform="translate(106.00 73.88) scale(0.9009 1)" text-anchor="end" font-size="15.24">14</text>
<text transform="translate(122.85 635.30) rotate(-90) scale(0.9009 1)" text-anchor="end" font-size="15.24">10-Jun</text>
<text transform="translate(142.17 635.30) rotate(-90) scale(0.9009 1)" text-anchor="end" font-size="15.24">12-Jun</text>
<text transform="translate(161.49 635.30) rotate(-90) scale(0.9009 1)" text-anchor="end" font-size="15.24">14-Jun</text>
<text transform="translate(180.81 635.30) rotate(-90) scale(0.9009 1)" text-anchor="end" font-size="15.24">16-Jun</text>
<text transform="translate(200.13 635.30) rotate(-90) scale(0.9009 1)" text-anchor="end" font-size="15.24">18-Jun</text>
<text transform="translate(219.45 635.30) rotate(-90) scale(0.9009 1)" text-anchor="end" font-size="15.24">20-Jun</text>
<text transform="translate(238.77 635.30) rotate(-90) scale(0.9009 1)" text-anchor="end" font-size="15.24">22-Jun</text>
<text transform="translate(258.09 635.30) rotate(-90) scale(0.9009 1)" text-anchor="end" font-size="15.24">24-Jun</text>
<text transform="translate(277.41 635.30) rotate(-90) scale(0.9009 1)" text-anchor="end" font-size="15.24">26-Jun</text>
<text transform="translate(296.73 635.30) rotate(-90) scale(0.9009 1)" text-anchor="end" font-size="15.24">28-Jun</text>
<text transform="translate(316.05 635.30) rotate(-90) scale(0.9009 1)" text-anchor="end" font-size="15.24">30-Jun</text>
<text transform="translate(335.37 635.30) rotate(-90) scale(0.9009 1)" text-anchor="end" font-size="15.24">2-Jul</text>
<text transform="translate(354.69 635.30) rotate(-90) scale(0.9009 1)" text-anchor="end" font-size="15.24">4-Jul</text>
<text transform="translate(374.01 635.30) rotate(-90) scale(0.9009 1)" text-anchor="end" font-size="15.24">6-Jul</text>
<text transform="translate(393.33 635.30) rotate(-90) scale(0.9009 1)" text-anchor="end" font-size="15.24">8-Jul</text>
<text transform="translate(412.65 635.30) rotate(-90) scale(0.9009 1)" text-anchor="end" font-size="15.24">10-Jul</text>
<text transform="translate(431.97 635.30) rotate(-90) scale(0.9009 1)" text-anchor="end" font-size="15.24">12-Jul</text>
<text transform="translate(451.29 635.30) rotate(-90) scale(0.9009 1)" text-anchor="end" font-size="15.24">14-Jul</text>
<text transform="translate(470.61 635.30) rotate(-90) scale(0.9009 1)" text-anchor="end" font-size="15.24">16-Jul</text>
<text transform="translate(489.93 635.30) rotate(-90) scale(0.9009 1)" text-anchor="end" font-size="15.24">18-Jul</text>
<text transform="translate(509.25 635.30) rotate(-90) scale(0.9009 1)" text-anchor="end" font-size="15.24">20-Jul</text>
<text transform="translate(528.57 635.30) rotate(-90) scale(0.9009 1)" text-anchor="end" font-size="15.24">22-Jul</text>
<text transform="translate(547.89 635.30) rotate(-90) scale(0.9009 1)" text-anchor="end" font-size="15.24">24-Jul</text>
<text transform="translate(567.21 635.30) rotate(-90) scale(0.9009 1)" text-anchor="end" font-size="15.24">26-Jul</text>
<text transform="translate(586.53 635.30) rotate(-90) scale(0.9009 1)" text-anchor="end" font-size="15.24">28-Jul</text>
<text transform="translate(605.85 635.30) rotate(-90) scale(0.9009 1)" text-anchor="end" font-size="15.24">30-Jul</text>
<text transform="translate(625.17 635.30) rotate(-90) scale(0.9009 1)" text-anchor="end" font-size="15.24">1-Aug</text>
<text transform="translate(644.49 635.30) rotate(-90) scale(0.9009 1)" text-anchor="end" font-size="15.24">3-Aug</text>
<text transform="translate(663.81 635.30) rotate(-90) scale(0.9009 1)" text-anchor="end" font-size="15.24">5-Aug</text>
<text transform="translate(683.13 635.30) rotate(-90) scale(0.9009 1)" text-anchor="end" font-size="15.24">7-Aug</text>
<text transform="translate(702.45 635.30) rotate(-90) scale(0.9009 1)" text-anchor="end" font-size="15.24">9-Aug</text>
<text transform="translate(721.77 635.30) rotate(-90) scale(0.9009 1)" text-anchor="end" font-size="15.24">11-Aug</text>
<text transform="translate(741.09 635.30) rotate(-90) scale(0.9009 1)" text-anchor="end" font-size="15.24">13-Aug</text>
<text transform="translate(760.41 635.30) rotate(-90) scale(0.9009 1)" text-anchor="end" font-size="15.24">15-Aug</text>
<text transform="translate(779.73 635.30) rotate(-90) scale(0.9009 1)" text-anchor="end" font-size="15.24">17-Aug</text>
<text transform="translate(799.05 635.30) rotate(-90) scale(0.9009 1)" text-anchor="end" font-size="15.24">19-Aug</text>
<text transform="translate(818.37 635.30) rotate(-90) scale(0.9009 1)" text-anchor="end" font-size="15.24">21-Aug</text>
<text transform="translate(837.69 635.30) rotate(-90) scale(0.9009 1)" text-anchor="end" font-size="15.24">23-Aug</text>
<text transform="translate(857.01 635.30) rotate(-90) scale(0.9009 1)" text-anchor="end" font-size="15.24">25-Aug</text>
<text transform="translate(876.33 635.30) rotate(-90) scale(0.9009 1)" text-anchor="end" font-size="15.24">27-Aug</text>
<text transform="translate(895.65 635.30) rotate(-90) scale(0.9009 1)" text-anchor="end" font-size="15.24">29-Aug</text>
<text transform="translate(914.97 635.30) rotate(-90) scale(0.9009 1)" text-anchor="end" font-size="15.24">31-Aug</text>
<text transform="translate(934.29 635.30) rotate(-90) scale(0.9009 1)" text-anchor="end" font-size="15.24">2-Sep</text>
<text transform="translate(953.61 635.30) rotate(-90) scale(0.9009 1)" text-anchor="end" font-size="15.24">4-Sep</text>
<text transform="translate(972.93 635.30) rotate(-90) scale(0.9009 1)" text-anchor="end" font-size="15.24">6-Sep</text>
<text transform="translate(992.25 635.30) rotate(-90) scale(0.9009 1)" text-anchor="end" font-size="15.24">8-Sep</text>
<text transform="translate(1011.57 635.30) rotate(-90) scale(0.9009 1)" text-anchor="end" font-size="15.24">10-Sep</text>
<text transform="translate(1030.89 635.30) rotate(-90) scale(0.9009 1)" text-anchor="end" font-size="15.24">12-Sep</text>
<text transform="translate(1050.21 635.30) rotate(-90) scale(0.9009 1)" text-anchor="end" font-size="15.24">14-Sep</text>
<text transform="translate(1069.53 635.30) rotate(-90) scale(0.9009 1)" text-anchor="end" font-size="15.24">16-Sep</text>
<text transform="translate(1088.85 635.30) rotate(-90) scale(0.9009 1)" text-anchor="end" font-size="15.24">18-Sep</text>
<text transform="translate(1108.17 635.30) rotate(-90) scale(0.9009 1)" text-anchor="end" font-size="15.24">20-Sep</text>
<text transform="translate(1127.49 635.30) rotate(-90) scale(0.9009 1)" text-anchor="end" font-size="15.24">22-Sep</text>
<text transform="translate(1146.81 635.30) rotate(-90) scale(0.9009 1)" text-anchor="end" font-size="15.24">24-Sep</text>
<text transform="translate(82.90 347.40) rotate(-90) scale(0.9009 1)" text-anchor="middle" font-size="15.54">No. of Cases</text>
<text transform="translate(558.30 697.60) scale(0.9009 1)" text-anchor="start" font-size="15.24">Date of Symptom Onset<tspan dx="0.8" dy="-4.4" font-size="9.4">b</tspan></text>
<rect x="171.2" y="130.2" width="6.7" height="6.7" fill="#8faadc" stroke="none"/>
<text transform="translate(181.10 138.10) scale(0.9009 1)" text-anchor="start" font-size="15.36">Outpatient</text>
<g stroke="none">
<rect x="250.1" y="129.9" width="7.1" height="7.1" fill="#c55a11"/>
<g fill="#fff"><rect x="250.9" y="129.6" width="2.2" height="1.2"/><rect x="256.3" y="131.1" width="1.2" height="2"/><rect x="255.1" y="133.4" width="0.8" height="2.4"/><rect x="250.9" y="136.1" width="2" height="1.2"/><rect x="249.8" y="130.9" width="0.9" height="2.2"/></g></g>
<text transform="translate(260.10 138.10) scale(0.9009 1)" text-anchor="start" font-size="15.26">Inpatient</text>
</svg>
<div class="t fn" style="top:714.9px">Abbreviations: n, number; No., number; Jun, June; Jul, July; Aug, August; Sep, September.</div>
<div class="t fn" style="top:735.8px"><sup>a</sup>Two outpatients had undocumented symptom onset dates.</div>
<div class="t fn" style="top:756.6px"><sup>b</sup>While the case definition represents those testing positive after July 1, symptom onsets date to June 10 because cases early in the outbreak were</div>
<div class="t fn" style="top:777.6px">characterized with significant delays in clinic presentation and testing. The June 10 case was part of a cohort with several cases that became symptomatic</div>
<div class="t fn" style="top:798.3px">later in June, creating a plausible epidemiological link. It is unclear whether this case represents the index case.</div>
</body>
</html>
